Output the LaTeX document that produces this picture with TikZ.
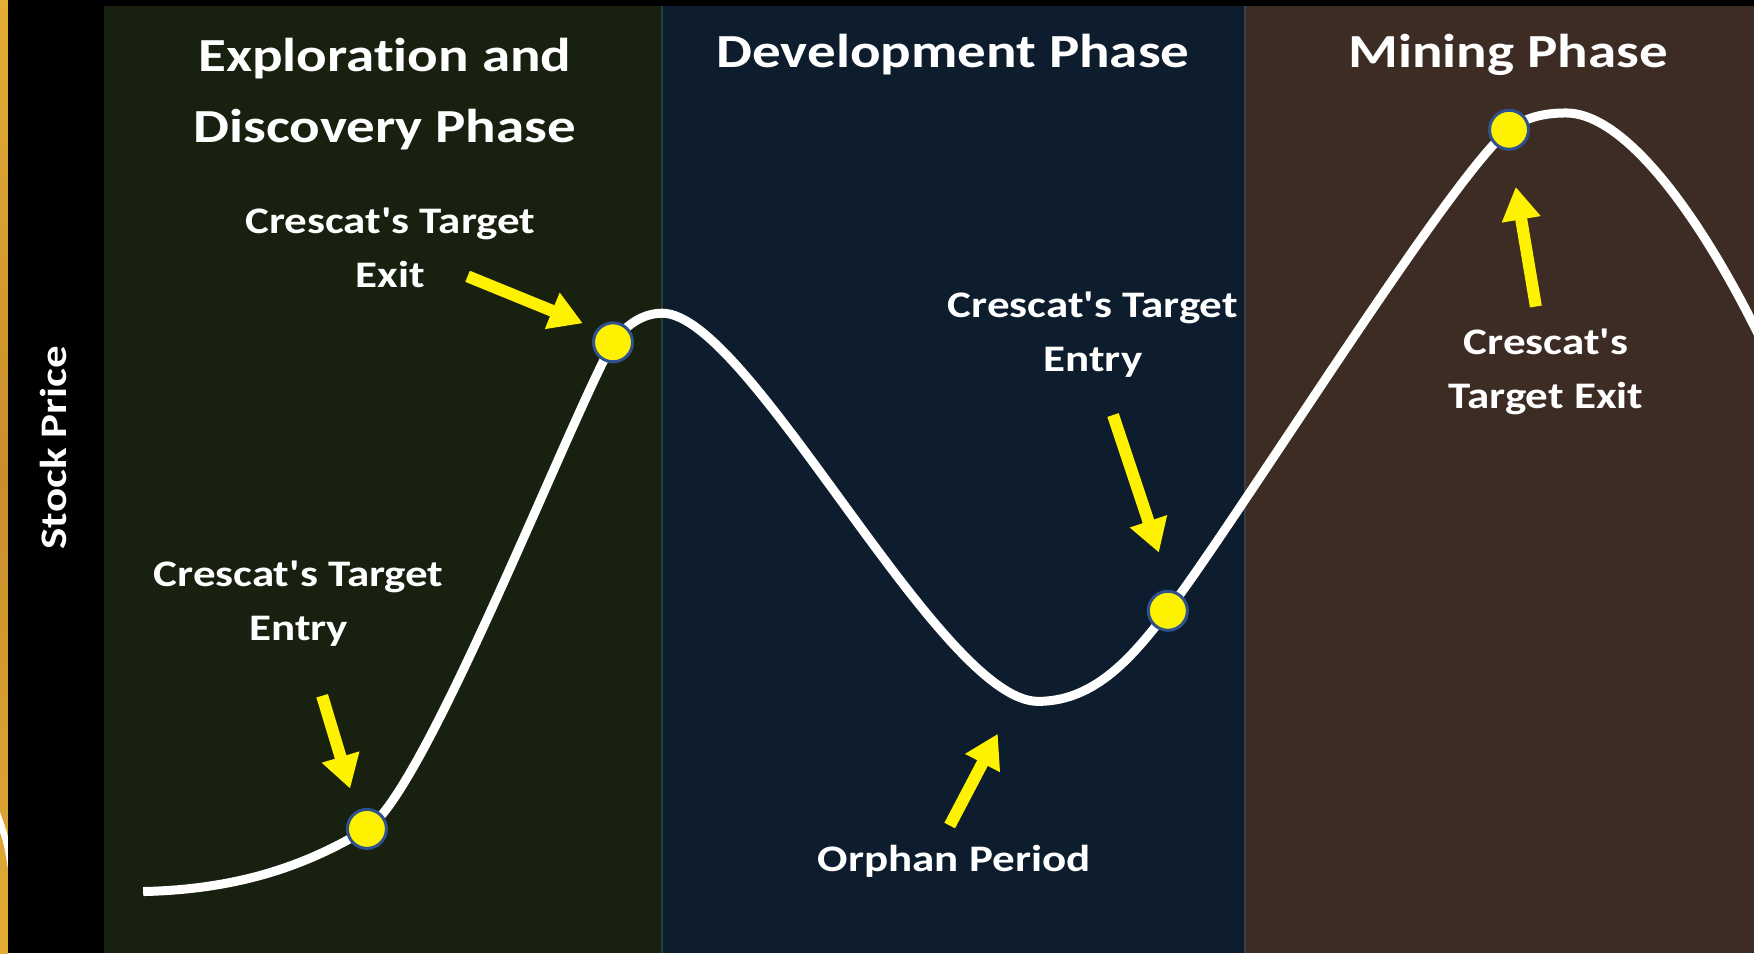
\documentclass[tikz,border=0pt]{standalone}
\usepackage{fontspec}
\newfontfamily\lbl{Carlito}[FakeStretch=1.2,Ligatures={TeXOff,CommonOff}]
\usetikzlibrary{arrows.meta}
\definecolor{bggreen}{RGB}{24,32,15}
\definecolor{bgblue}{RGB}{13,29,46}
\definecolor{bgbrown}{RGB}{60,44,36}
\definecolor{dotblue}{RGB}{47,82,143}
\definecolor{goldA}{RGB}{227,172,53}
\definecolor{goldB}{RGB}{201,142,43}
\definecolor{divA}{RGB}{38,64,64}
\definecolor{divB}{RGB}{59,64,72}
\begin{document}
\begin{tikzpicture}[x=1.1186pt,y=-1.1186pt,
  titletext/.style={text=white,font=\lbl\bfseries\fontsize{47.5}{70.5}\selectfont,align=center,inner sep=0pt},
  labeltext/.style={text=white,font=\lbl\bfseries\fontsize{37.5}{54}\selectfont,align=center,inner sep=0pt},
  dot/.style={circle,fill=yellow,draw=dotblue,line width=3pt,minimum size=39pt,inner sep=0pt},
  yarrow/.style={draw=yellow,line width=12pt,-{Triangle[width=37pt,length=33pt]}},
  curve/.style={white,line width=9pt}]
\useasboundingbox (0,0) rectangle (1568,852);
% backgrounds
\fill[black] (0,0) rectangle (1568,852);
\shade[top color=goldA,bottom color=goldA,middle color=goldB] (0,0) rectangle (7,852);
\fill[white] (0,726) .. controls (3,735) and (6,742) .. (7,748) -- (7,776) .. controls (5,762) and (3,752) .. (0,744) -- cycle;
\fill[bggreen] (93,5) rectangle (592,852);
\fill[bgblue] (592,5) rectangle (1113,852);
\fill[bgbrown] (1113,5) rectangle (1568,852);
\draw[divA,line width=1.5pt] (592,5) -- (592,852);
\draw[divB,line width=1.5pt] (1113,5) -- (1113,852);
% curve
\begin{scope}
\clip (93,5) rectangle (1568,852);
\draw[curve] (128,797) .. controls (220,795) and (280,770) .. (328,741)
  .. controls (378,711) and (505,385) .. (548,306)
  .. controls (560,290) and (575,280) .. (592,280)
  .. controls (670,280) and (840,627) .. (928,627)
  .. controls (980,627) and (1014,585) .. (1044,546)
  .. controls (1104,468) and (1299,154) .. (1349,116)
  .. controls (1366,103) and (1385,101) .. (1400,101)
  .. controls (1460,101) and (1540,220) .. (1600,360);
\end{scope}
% dots
\node[dot] (d1) at (328,741) {};
\node[dot] (d2) at (548,306) {};
\node[dot] (d3) at (1044,546) {};
\node[dot] (d4) at (1349,116) {};
% titles
\node[titletext,anchor=base] (t1) at (344,127) {Exploration and\\Discovery Phase};
\node[titletext,anchor=base] (t2) at (852,60) {Development Phase};
\node[titletext,anchor=base] (t3) at (1348,60) {Mining Phase};
\node[labeltext,rotate=90] (yl) at (48,400) {Stock Price};
% labels
\node[labeltext,anchor=base] (l1) at (267,573) {Crescat's Target\\Entry};
\node[labeltext,anchor=base] (l2) at (349,257) {Crescat's Target\\Exit};
\node[labeltext,anchor=base] (l3) at (853,779) {Orphan Period};
\node[labeltext,anchor=base] (l4) at (977,332) {Crescat's Target\\Entry};
\node[labeltext,anchor=base] (l5) at (1382,365) {Crescat's\\Target Exit};
% arrows
\coordinate (a1s) at (288,622); \coordinate (a1e) at (313,705);
\coordinate (a2s) at (418,247); \coordinate (a2e) at (521,289);
\coordinate (a3s) at (849,738); \coordinate (a3e) at (892,656);
\coordinate (a4s) at (995,371); \coordinate (a4e) at (1036,494);
\coordinate (a5s) at (1373,274); \coordinate (a5e) at (1355,167);
\draw[yarrow] (a1s) -- (a1e);
\draw[yarrow] (a2s) -- (a2e);
\draw[yarrow] (a3s) -- (a3e);
\draw[yarrow] (a4s) -- (a4e);
\draw[yarrow] (a5s) -- (a5e);
\end{tikzpicture}
\end{document}
